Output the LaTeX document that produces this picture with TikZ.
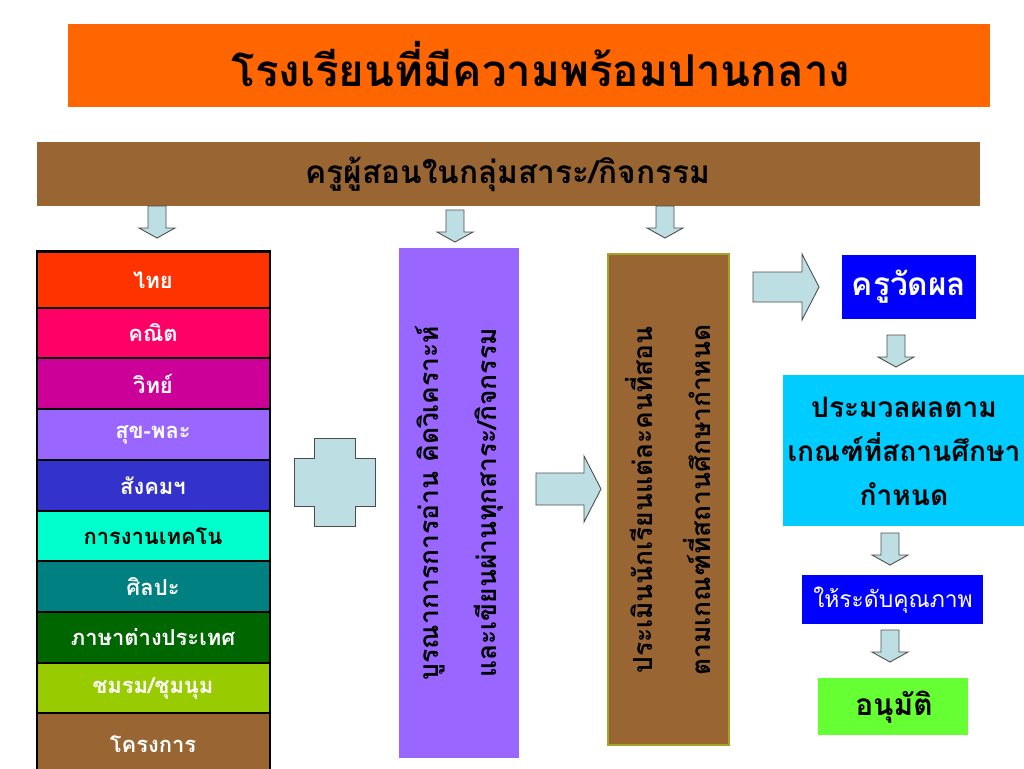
\documentclass[tikz,border=0pt]{standalone}
\usepackage{fontspec}
\newfontfamily\thaifont[Script=Thai]{Loma}
\definecolor{titleorange}{HTML}{FF6600}
\definecolor{barbrown}{HTML}{996633}
\definecolor{arrblue}{HTML}{BDDFE3}
\definecolor{boxpurple}{HTML}{9966FF}
\definecolor{boxblue}{HTML}{0000FF}
\definecolor{boxcyan}{HTML}{00CCFF}
\definecolor{boxgreen}{HTML}{66FF33}
\definecolor{edgeolive}{HTML}{A3A32A}
% block arrows: x, top, bottom
\newcommand{\dnarr}[3]{
    \draw[arr] (#1-9,#2)--(#1+9,#2)--(#1+9,#3-10)--(#1+18,#3-10)--(#1,#3)
        --(#1-18,#3-10)--(#1-9,#3-10)--cycle;
}
% x start, x head, x tip, y mid, shaft half, head half
\newcommand{\rtarr}[6]{
    \draw[arr] (#1,#4-#5)--(#2,#4-#5)--(#2,#4-#6)--(#3,#4)--(#2,#4+#6)
        --(#2,#4+#5)--(#1,#4+#5)--cycle;
}

\begin{document}
\begin{tikzpicture}[x=0.02cm,y=-0.02cm,
    every node/.style={font=\thaifont},
    arr/.style={fill=arrblue,draw=black!70,line width=0.5pt},
    subj/.style={font=\thaifont\bfseries\fontsize{12.5}{14}\selectfont},
    vert/.style={rotate=90,align=center,font=\thaifont\bfseries\fontsize{15}{33}\selectfont},
    ]
            \useasboundingbox (0,0) rectangle (1024,768);
            % title and teachers bar
            \fill[titleorange] (68,24) rectangle (990,107);
            \node[font=\thaifont\bfseries\fontsize{25}{30}\selectfont] (title) at (541,64) {โรงเรียนที่มีความพร้อมปานกลาง};
            \fill[barbrown] (37,142) rectangle (980,206);
            \node[font=\thaifont\bfseries\fontsize{18}{22}\selectfont] (teach) at (508,174) {ครูผู้สอนในกลุ่มสาระ/กิจกรรม};
            \dnarr{157}{206}{238}
            \dnarr{455}{210}{242}
            \dnarr{665}{206}{238}
            % subject column
            \foreach \ya/\yb/\col/\tc/\txt [count=\i] in {
                252/308/FF3300/white/ไทย,
                308/358/FF0066/white/คณิต,
                358/409/CC0099/white/วิทย์,
                409/460/9966FF/white/สุข-พละ,
                460/511/3333CC/white/สังคมฯ,
                511/561/00FFCC/black/การงานเทคโน,
                561/612/008080/white/ศิลปะ,
                612/663/006600/white/ภาษาต่างประเทศ,
                663/713/99CC00/white/{ชมรม/ชุมนุม},
                713/775/996633/white/โครงการ}{
                \definecolor{rowcol}{HTML}{\col}
                \draw[fill=rowcol,line width=0.6pt] (37,\ya) rectangle (270,\yb);
                \node[subj,text=\tc] (s\i) at (153,{(\ya+\yb)/2}) {\txt};
            }
            \draw[line width=1.6pt] (37,775)--(37,251)--(270,251)--(270,775);
            % plus sign
            \draw[arr] (314,438)--(355,438)--(355,458)--(375,458)--(375,506)--(355,506)
                --(355,526)--(314,526)--(314,506)--(294,506)--(294,458)--(314,458)--cycle;
            % reading box
            \fill[boxpurple] (399,248) rectangle (519,758);
            \node[vert] (read) at (459,503) {บูรณาการการอ่าน คิดวิเคราะห์\\และเขียนผ่านทุกสาระ/กิจกรรม};
            \rtarr{536}{584}{601}{489}{16}{33}
            % assessment box
            \draw[fill=barbrown,draw=edgeolive,line width=0.6pt] (608,254) rectangle (729,745);
            \node[vert] (assess) at (668,500) {ประเมินนักเรียนแต่ละคนที่สอน\\ตามเกณฑ์ที่สถานศึกษากำหนด};
            \rtarr{753}{802}{819}{287}{15}{33}
            % right hand chain
            \fill[boxblue] (842,255) rectangle (976,319);
            \node[font=\thaifont\bfseries\fontsize{18}{22}\selectfont,text=white] (meas) at (909,287) {ครูวัดผล};
            \dnarr{896}{335}{367}
            \fill[boxcyan] (783,375) rectangle (1024,526);
            \node[align=center,font=\thaifont\bfseries\fontsize{16}{25}\selectfont] (proc) at (904,451)
                {ประมวลผลตาม\\เกณฑ์ที่สถานศึกษา\\กำหนด};
            \dnarr{890}{533}{565}
            \fill[boxblue] (802,575) rectangle (983,624);
            \node[font=\thaifont\fontsize{13}{16}\selectfont,text=white] (grade) at (893,600) {ให้ระดับคุณภาพ};
            \dnarr{890}{630}{662}
            \fill[boxgreen] (818,678) rectangle (968,735);
            \node[font=\thaifont\bfseries\fontsize{17}{20}\selectfont] (appr) at (894,707) {อนุมัติ};
        \end{tikzpicture}
\end{document}
